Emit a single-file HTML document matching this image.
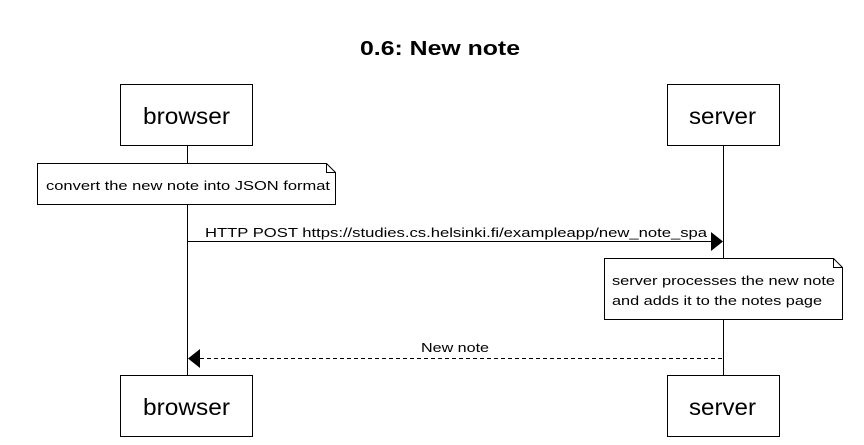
<!DOCTYPE html>
<html><head><style>body{margin:0;background:#fff}</style></head><body>
<svg width="864" height="440" xmlns="http://www.w3.org/2000/svg" font-family="Liberation Sans, Arial, sans-serif">
<rect width="864" height="440" fill="#fff"/>
<text x="360" y="55" font-size="20" font-weight="bold" textLength="160" lengthAdjust="spacingAndGlyphs">0.6: New note</text>
<g stroke="#000" stroke-width="1" fill="none">
<line x1="187.5" y1="145" x2="187.5" y2="375"/>
<line x1="723.5" y1="145" x2="723.5" y2="375"/>
</g>
<g stroke="#000" fill="#fff">
<rect x="120.5" y="84.5" width="132" height="61"/>
<rect x="667.5" y="84.5" width="112" height="61"/>
<rect x="120.5" y="375.5" width="132" height="61"/>
<rect x="667.5" y="375.5" width="112" height="61"/>
<path d="M37.5 163.5 H326.5 L335.5 172.5 V204.5 H37.5 Z"/>
<path d="M326.5 163.5 V172.5 H335.5" fill="none"/>
<path d="M604.5 258.5 H833.5 L842.5 267.5 V319.5 H604.5 Z"/>
<path d="M833.5 258.5 V267.5 H842.5" fill="none"/>
</g>
<g font-size="23">
<text x="143" y="124" textLength="87" lengthAdjust="spacingAndGlyphs">browser</text>
<text x="689" y="124" textLength="67" lengthAdjust="spacingAndGlyphs">server</text>
<text x="143" y="415" textLength="87" lengthAdjust="spacingAndGlyphs">browser</text>
<text x="689" y="415" textLength="67" lengthAdjust="spacingAndGlyphs">server</text>
</g>
<g font-size="13">
<text x="46" y="190" textLength="284" lengthAdjust="spacingAndGlyphs">convert the new note into JSON format</text>
<text x="612" y="285" textLength="223" lengthAdjust="spacingAndGlyphs">server processes the new note</text>
<text x="612" y="305" textLength="210" lengthAdjust="spacingAndGlyphs">and adds it to the notes page</text>
<text x="205" y="237" textLength="502" lengthAdjust="spacingAndGlyphs">HTTP POST https://studies.cs.helsinki.fi/exampleapp/new_note_spa</text>
<text x="421" y="352" textLength="68" lengthAdjust="spacingAndGlyphs">New note</text>
</g>
<line x1="187.5" y1="241.5" x2="712" y2="241.5" stroke="#000"/>
<path d="M711 232 L723 241.5 L711 251 Z" fill="#000"/>
<line x1="200" y1="358.5" x2="723" y2="358.5" stroke="#000" stroke-dasharray="4,3"/>
<path d="M200 349 L188 358.5 L200 368 Z" fill="#000"/>
</svg>
</body></html>
